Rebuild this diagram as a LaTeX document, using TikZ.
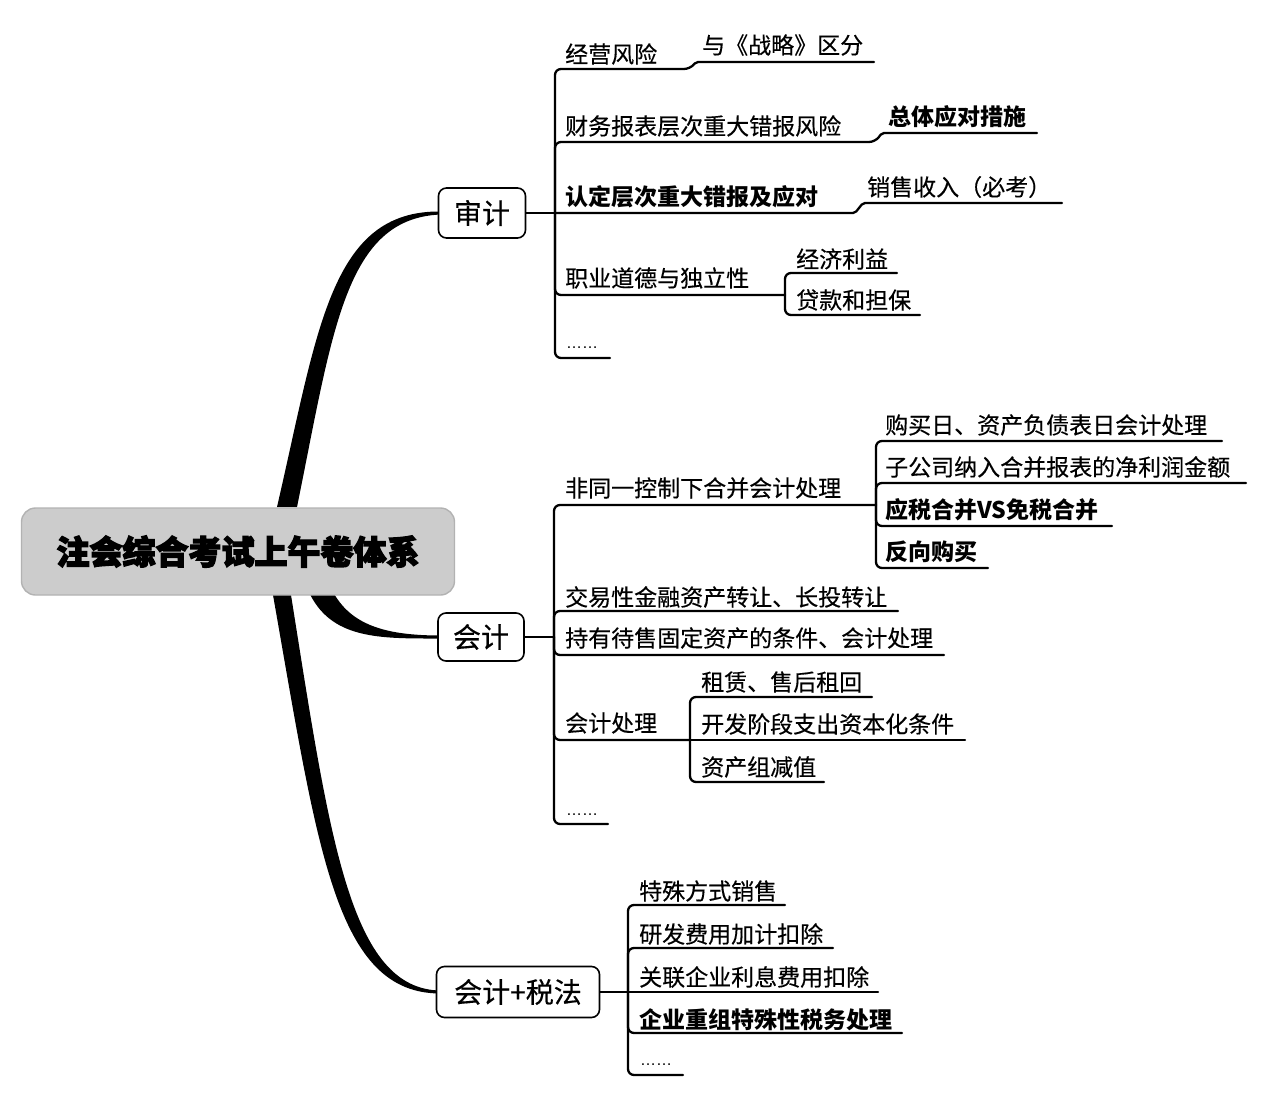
\documentclass[tikz,border=0pt]{standalone}
\usepackage{fontspec}
\setmainfont{Noto Sans CJK SC}[UprightFeatures={FakeBold=0.35}]
\newfontfamily\titlefont{Noto Sans CJK SC}[BoldFeatures={FakeBold=4}]
\newfontfamily\latinfont{Liberation Sans}
\usetikzlibrary{calc}
\tikzset{
  br/.style={line width=2.3pt, rounded corners=6pt, line cap=round},
  lbl/.style={anchor=west, inner sep=0pt, font=\fontsize{23}{23}\selectfont},
  blbl/.style={anchor=west, inner sep=0pt, font=\fontsize{23}{23}\selectfont\bfseries},
  dots/.style={anchor=west, inner sep=0pt, font=\fontsize{16}{16}\selectfont\latinfont},
  topic/.style={draw, line width=1.6pt, rounded corners=8pt, fill=white, inner sep=0pt, font=\fontsize{28}{28}\selectfont},
  rootbox/.style={draw=gray!60, line width=1.4pt, rounded corners=14pt, fill=gray!40, inner sep=0pt, font=\fontsize{33}{33}\selectfont\titlefont\bfseries},
}
\begin{document}
\begin{tikzpicture}[x=1pt,y=-1pt]
\useasboundingbox (0,0) rectangle (1262,1098);

% tapered trunks
\fill (277,507) .. controls (318,330) and (330,210) .. (441,211.5) -- (441,214.5) .. controls (345,218) and (333,330) .. (297,507) -- cycle;
\fill (273,595) .. controls (318,850) and (335,994) .. (441,993.5) -- (441,990.5) .. controls (350,990) and (330,840) .. (291,595) -- cycle;
\fill (308,590) .. controls (330,640) and (380,638.5) .. (441,638.5) -- (441,635.5) .. controls (385,635.5) and (350,625) .. (332,590) -- cycle;

% root
\node[rootbox, minimum width=433pt, minimum height=87pt] (root) at (238,551.5) {注会综合考试上午卷体系};

% topics
\node[topic, minimum width=87pt, minimum height=50pt] (sj) at (482,213) {审计};
\node[topic, minimum width=86pt, minimum height=48pt] (kj) at (481,637) {会计};
\node[topic, minimum width=163pt, minimum height=51pt] (ks) at (518,992) {会计+税法};

% ---------- audit ----------
\coordinate (J1) at (555,213);
\node[lbl] (a1) at (565,54) {经营风险};
\node[lbl] (a1c) at (702,45) {与《战略》区分};
\node[lbl] (a2) at (565,126) {财务报表层次重大错报风险};
\node[blbl] (a2c) at (888,117) {总体应对措施};
\node[blbl] (a3) at (565,197) {认定层次重大错报及应对};
\node[lbl] (a3c) at (867,187) {销售收入（必考）};
\node[lbl] (a4) at (565,278) {职业道德与独立性};
\node[lbl] (a41) at (796,259) {经济利益};
\node[lbl] (a42) at (796,300) {贷款和担保};
\node[dots] (a5) at (566,348) {……};

\coordinate (a1e) at (690,69);
\coordinate (a1ce) at (874,62);
\coordinate (a2e) at (875,142);
\coordinate (a2ce) at (1037,133);
\coordinate (a3e) at (855,213);
\coordinate (a3ce) at (1062,203);
\coordinate (J4) at (785,295);
\coordinate (a41e) at (897,273);
\coordinate (a42e) at (920,315);
\coordinate (a5e) at (610,358);

\draw[br] (sj.east) -- (J1);
\draw[br,rounded corners=2pt] (J1) [rounded corners=6pt] |- (a1e) [rounded corners=2pt] -- ++(6,-7) -- (a1ce);
\draw[br] (J1) [rounded corners=6pt] |- (a2e) [rounded corners=2pt] -- ++(7,-9) -- (a2ce);
\draw[br,rounded corners=2pt] (J1) -- (a3e) -- ++(8,-10) -- (a3ce);
\draw[br] (J1) |- (J4);
\draw[br] (J4) |- (a41e);
\draw[br] (J4) |- (a42e);
\draw[br] (J1) |- (a5e);

% ---------- accounting ----------
\coordinate (J2) at (554,637);
\node[lbl] (b1) at (565,488) {非同一控制下合并会计处理};
\node[lbl] (b11) at (885,425) {购买日、资产负债表日会计处理};
\node[lbl] (b12) at (885,467) {子公司纳入合并报表的净利润金额};
\node[blbl] (b13) at (885,510) {应税合并VS免税合并};
\node[blbl] (b14) at (885,552) {反向购买};
\node[lbl] (b2) at (565,597) {交易性金融资产转让、长投转让};
\node[lbl] (b3) at (565,638) {持有待售固定资产的条件、会计处理};
\node[lbl] (b4) at (565,723) {会计处理};
\node[lbl] (b41) at (701,682) {租赁、售后租回};
\node[lbl] (b42) at (701,724) {开发阶段支出资本化条件};
\node[lbl] (b43) at (701,767) {资产组减值};
\node[dots] (b5) at (566,815) {……};

\coordinate (J2b) at (876,505);
\coordinate (b11e) at (1222,441);
\coordinate (b12e) at (1246,483);
\coordinate (b13e) at (1112,526);
\coordinate (b14e) at (988,568);
\coordinate (b2e) at (898,611);
\coordinate (b3e) at (944,655);
\coordinate (J2d) at (690,740);
\coordinate (b41e) at (872,697);
\coordinate (b42e) at (965,740);
\coordinate (b43e) at (824,782);
\coordinate (b5e) at (608,824);

\draw[br] (kj.east) -- (J2);
\draw[br] (J2) |- (J2b);
\draw[br] (J2b) |- (b11e);
\draw[br] (J2b) |- (b12e);
\draw[br] (J2b) |- (b13e);
\draw[br] (J2b) |- (b14e);
\draw[br] (J2) |- (b2e);
\draw[br] (J2) |- (b3e);
\draw[br] (J2) |- (J2d);
\draw[br] (J2d) |- (b41e);
\draw[br] (J2d) -- (b42e);
\draw[br] (J2d) |- (b43e);
\draw[br] (J2) |- (b5e);

% ---------- accounting + tax ----------
\coordinate (J3) at (628,992);
\node[lbl] (c1) at (639,891) {特殊方式销售};
\node[lbl] (c2) at (639,934) {研发费用加计扣除};
\node[lbl] (c3) at (639,977) {关联企业利息费用扣除};
\node[blbl] (c4) at (639,1020) {企业重组特殊性税务处理};
\node[dots] (c5) at (640,1065) {……};

\coordinate (c1e) at (785,905);
\coordinate (c2e) at (833,948);
\coordinate (c3e) at (878,992);
\coordinate (c4e) at (902,1033);
\coordinate (c5e) at (683,1075);

\draw[br] (ks.east) -- (J3);
\draw[br] (J3) |- (c1e);
\draw[br] (J3) |- (c2e);
\draw[br] (J3) -- (c3e);
\draw[br] (J3) |- (c4e);
\draw[br] (J3) |- (c5e);
\end{tikzpicture}
\end{document}
